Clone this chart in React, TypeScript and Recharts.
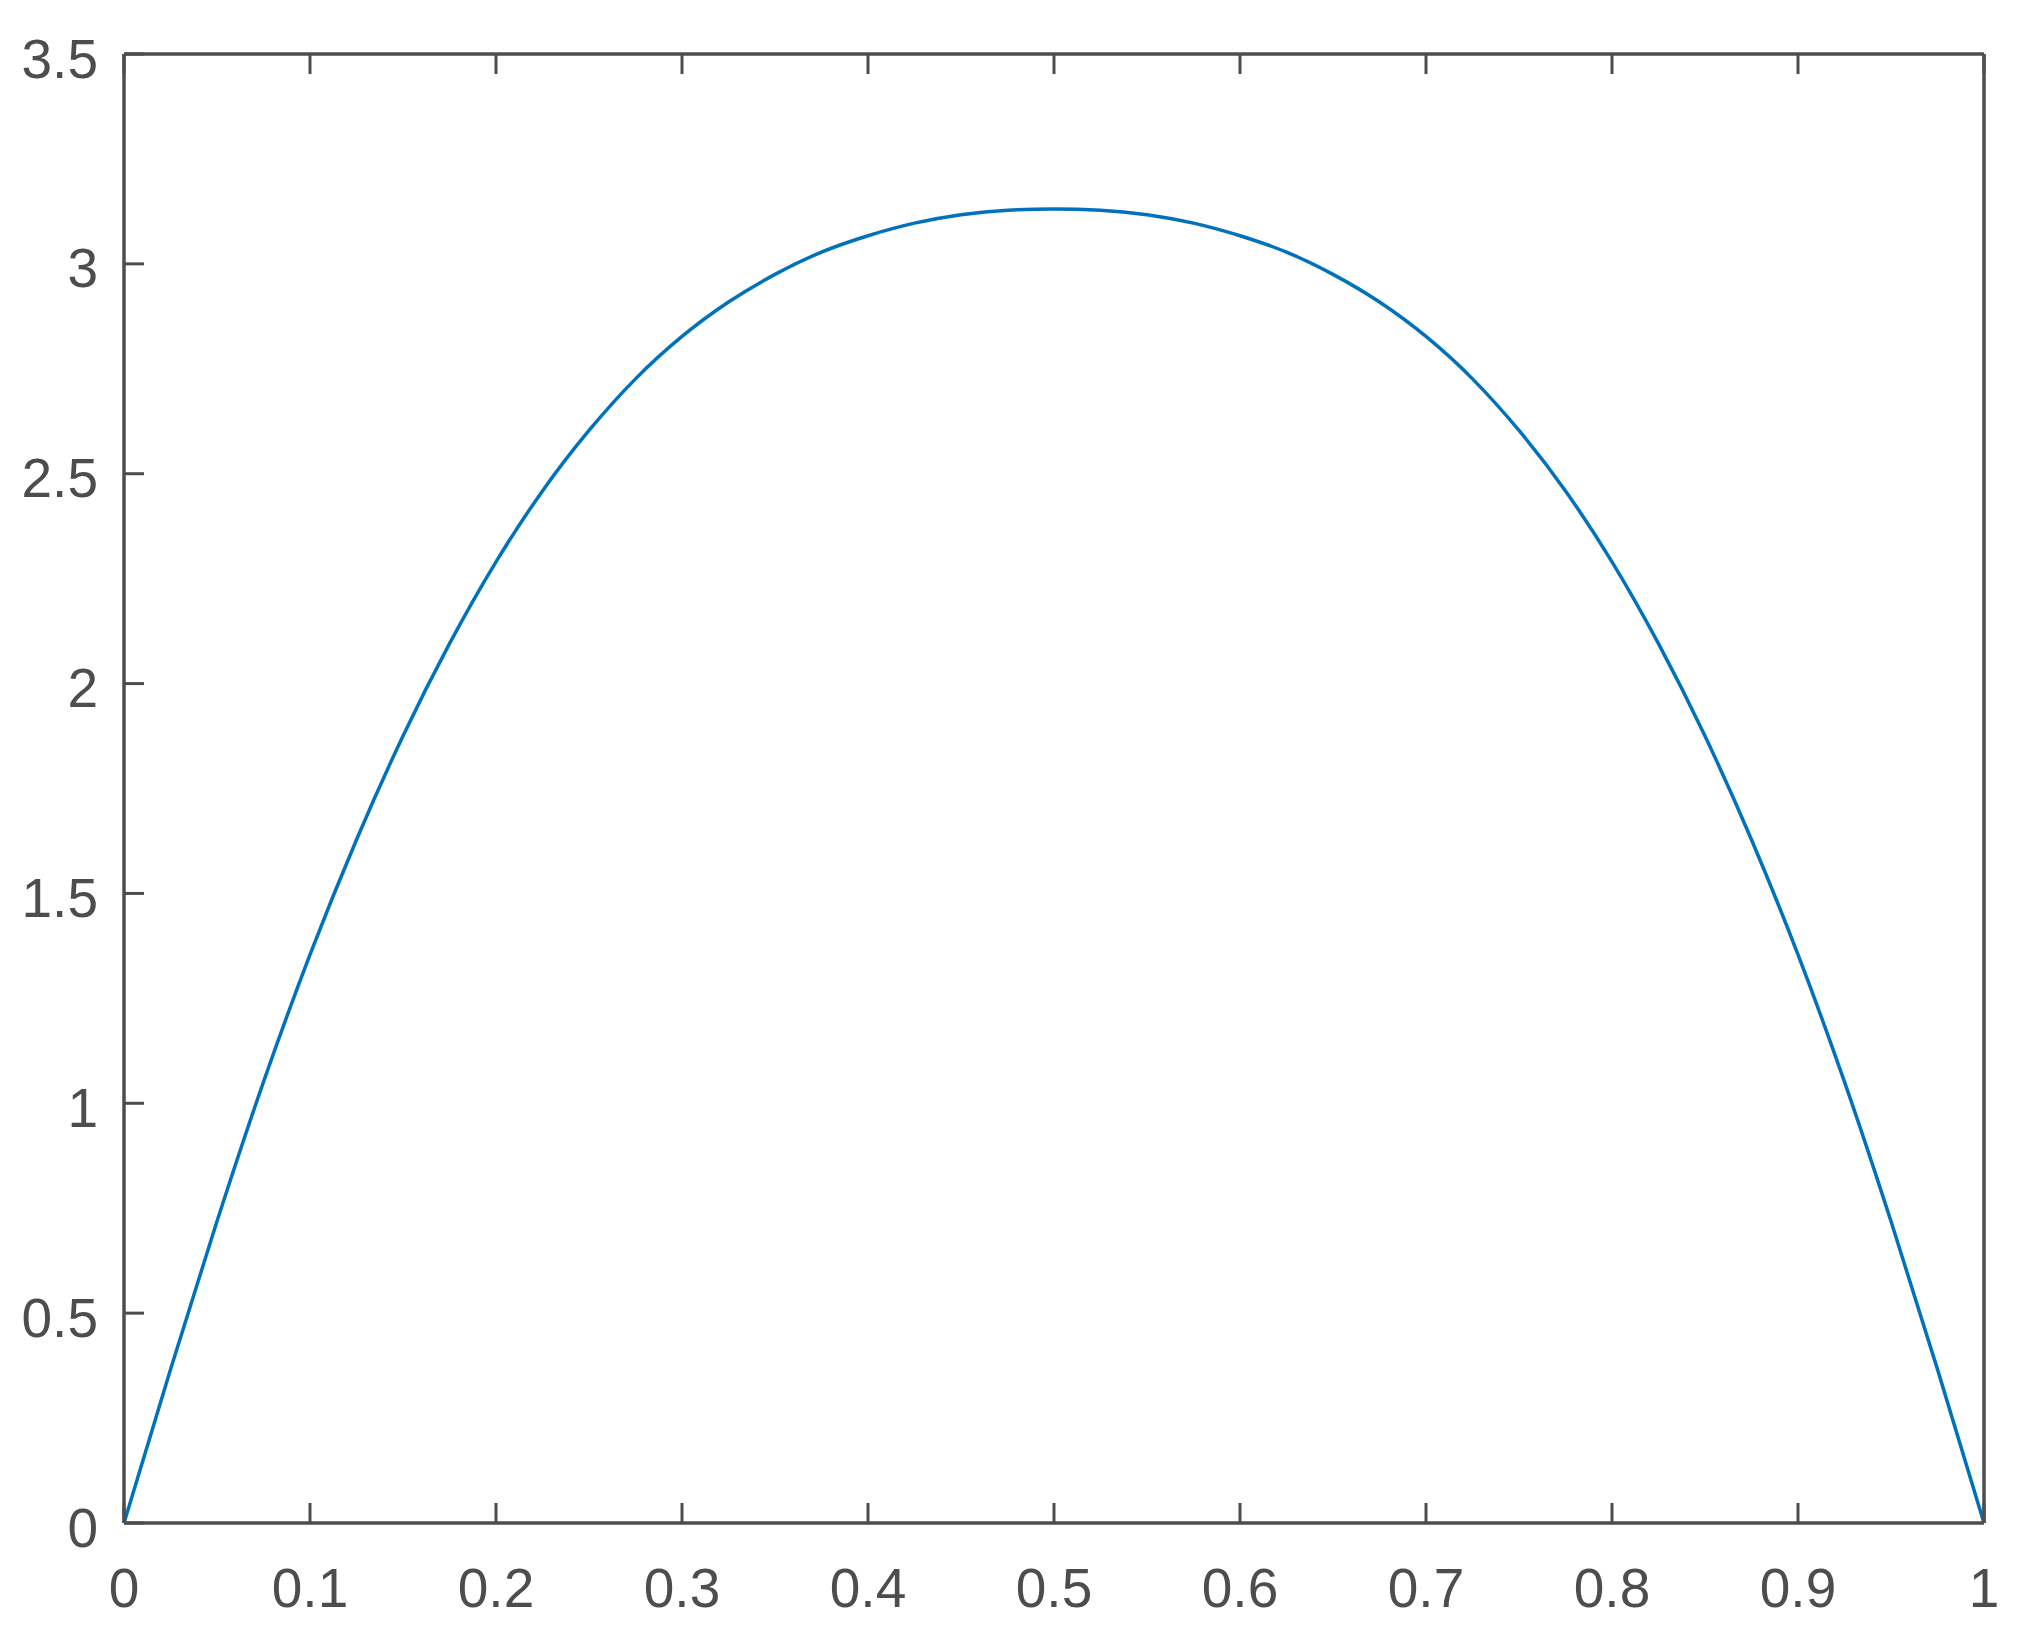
import { Line, LineChart, XAxis, YAxis } from 'recharts'

const xValues = [
  0, 0.025, 0.05, 0.075, 0.1, 0.125, 0.15, 0.175, 0.2, 0.225, 0.25, 0.275, 0.3, 0.325,
  0.35, 0.375, 0.4, 0.425, 0.45, 0.475, 0.5, 0.525, 0.55, 0.575, 0.6, 0.625, 0.65,
  0.675, 0.7, 0.725, 0.75, 0.775, 0.8, 0.825, 0.85, 0.875, 0.9, 0.925, 0.95, 0.975, 1,
]

const yValues = [
  0, 0.366, 0.719, 1.051, 1.354, 1.628, 1.875, 2.095, 2.29, 2.459, 2.603, 2.726, 2.827,
  2.909, 2.975, 3.028, 3.067, 3.097, 3.117, 3.128, 3.131, 3.128, 3.117, 3.097, 3.067,
  3.028, 2.975, 2.909, 2.827, 2.726, 2.603, 2.459, 2.29, 2.095, 1.875, 1.628, 1.354,
  1.051, 0.719, 0.366, 0,
]

const xTicks = [0, 0.1, 0.2, 0.3, 0.4, 0.5, 0.6, 0.7, 0.8, 0.9, 1]
const yTicks = [0, 0.5, 1, 1.5, 2, 2.5, 3, 3.5]

const data = xValues.map((x, i) => ({ x, y: yValues[i] }))

// plot box (matches margins + axis sizes below)
const LEFT = 124
const RIGHT = 1984
const TOP = 54
const BOTTOM = 1523
const TICK_LEN = 20

const AXIS = '#4d4d4d'
const FONT = 'Liberation Sans, Arial, sans-serif'
const axisLine = { stroke: AXIS, strokeWidth: 3.5 }

const BottomTick = (props: any) => {
  const c = props.payload.coordinate
  return (
    <g>
      <line x1={c} x2={c} y1={BOTTOM} y2={BOTTOM - TICK_LEN} stroke={AXIS} strokeWidth={3} />
      <text x={c} y={BOTTOM + 84} textAnchor="middle" fill={AXIS} fontSize={55} fontFamily={FONT}>
        {String(props.payload.value)}
      </text>
    </g>
  )
}

const TopTick = (props: any) => {
  const c = props.payload.coordinate
  return <line x1={c} x2={c} y1={TOP} y2={TOP + TICK_LEN} stroke={AXIS} strokeWidth={3} />
}

const LeftTick = (props: any) => {
  const c = props.payload.coordinate
  return (
    <g>
      <line x1={LEFT} x2={LEFT + TICK_LEN} y1={c} y2={c} stroke={AXIS} strokeWidth={3} />
      <text x={LEFT - 26} y={c + 23.5} textAnchor="end" fill={AXIS} fontSize={55} fontFamily={FONT}>
        {String(props.payload.value)}
      </text>
    </g>
  )
}

const RightTick = (props: any) => {
  const c = props.payload.coordinate
  return <line x1={RIGHT} x2={RIGHT - TICK_LEN} y1={c} y2={c} stroke={AXIS} strokeWidth={3} />
}

export default function App() {
  return (
    <div style={{ position: 'absolute', left: 0, top: 0, background: '#fff' }}>
      <LineChart
        width={2022}
        height={1640}
        data={data}
        margin={{ top: TOP - 1, right: 2022 - RIGHT - 1, left: 0, bottom: 0 }}
      >
        <XAxis
          dataKey="x"
          type="number"
          domain={[0, 1]}
          ticks={xTicks}
          height={1640 - BOTTOM}
          tick={BottomTick}
          tickLine={false}
          axisLine={axisLine}
          interval={0}
        />
        <XAxis
          xAxisId="top"
          orientation="top"
          dataKey="x"
          type="number"
          domain={[0, 1]}
          ticks={xTicks}
          height={1}
          tick={TopTick}
          tickLine={false}
          axisLine={axisLine}
          interval={0}
        />
        <YAxis
          type="number"
          domain={[0, 3.5]}
          ticks={yTicks}
          width={LEFT}
          tick={LeftTick}
          tickLine={false}
          axisLine={axisLine}
          interval={0}
        />
        <YAxis
          yAxisId="right"
          orientation="right"
          type="number"
          domain={[0, 3.5]}
          ticks={yTicks}
          width={1}
          tick={RightTick}
          tickLine={false}
          axisLine={axisLine}
          interval={0}
        />
        <Line
          type="monotone"
          dataKey="y"
          stroke="#0072bd"
          strokeWidth={3.5}
          dot={false}
          activeDot={false}
          isAnimationActive={false}
        />
      </LineChart>
    </div>
  )
}
